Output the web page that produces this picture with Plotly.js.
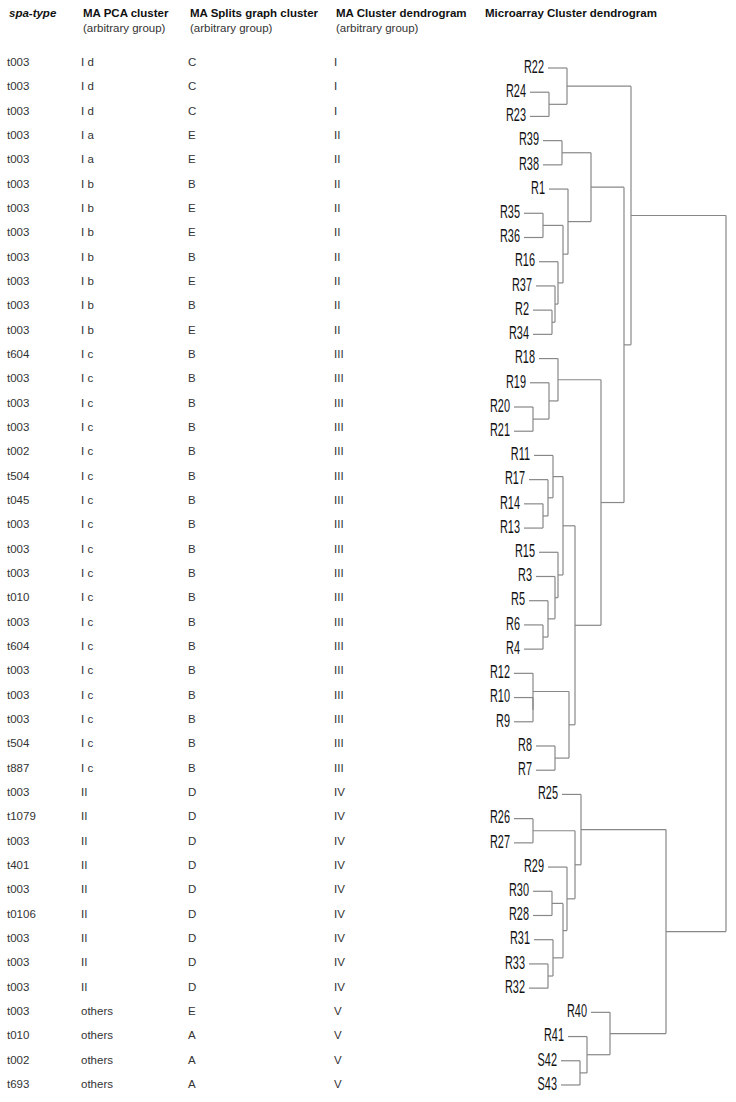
<!DOCTYPE html>
<html>
<head>
<meta charset="utf-8">
<script src="https://cdn.plot.ly/plotly-3.0.1.min.js"></script>
<style>html,body{margin:0;padding:0;background:#fff;}#chart{width:736px;height:1102px;}</style>
</head>
<body>
<div id="chart"></div>
<script>
// ---------- DATA ----------
const spaType = ["t003","t003","t003","t003","t003","t003","t003","t003","t003","t003","t003","t003",
  "t604","t003","t003","t003","t002","t504","t045","t003","t003","t003","t010","t003","t604","t003","t003","t003","t504","t887",
  "t003","t1079","t003","t401","t003","t0106","t003","t003","t003",
  "t003","t010","t002","t693"];
const pcaCluster = ["I d","I d","I d","I a","I a","I b","I b","I b","I b","I b","I b","I b",
  "I c","I c","I c","I c","I c","I c","I c","I c","I c","I c","I c","I c","I c","I c","I c","I c","I c","I c",
  "II","II","II","II","II","II","II","II","II",
  "others","others","others","others"];
const splitsCluster = ["C","C","C","E","E","B","E","E","B","E","B","E",
  "B","B","B","B","B","B","B","B","B","B","B","B","B","B","B","B","B","B",
  "D","D","D","D","D","D","D","D","D",
  "E","A","A","A"];
const maDendroCluster = ["I","I","I","II","II","II","II","II","II","II","II","II",
  "III","III","III","III","III","III","III","III","III","III","III","III","III","III","III","III","III","III",
  "IV","IV","IV","IV","IV","IV","IV","IV","IV",
  "V","V","V","V"];
const headers = [
  ["spa-type", ""],
  ["MA PCA cluster", "(arbitrary group)"],
  ["MA Splits graph cluster", "(arbitrary group)"],
  ["MA Cluster dendrogram", "(arbitrary group)"],
  ["Microarray Cluster dendrogram", ""]
];
// dendrogram leaves, top to bottom
const leafLabels = ["R22","R24","R23","R39","R38","R1","R35","R36","R16","R37","R2","R34",
  "R18","R19","R20","R21","R11","R17","R14","R13","R15","R3","R5","R6","R4",
  "R12","R10","R9","R8","R7","R25","R26","R27","R29","R30","R28","R31","R33","R32",
  "R40","R41","S42","S43"];
// merges: [childA, childB, height]; ids < 43 are leaves, id 43+k is merge k
const mergeA = [1,0,3,6,10,9,8,46,5,45,14,13,12,18,17,16,23,22,21,20,58,26,25,28,65,63,55,52,44,31,34,37,36,73,33,72,30,41,40,39,79,71];
const mergeB = [2,43,4,7,11,47,48,49,50,51,15,53,54,19,56,57,24,59,60,61,62,27,64,29,66,67,68,69,70,32,35,38,74,75,76,77,78,42,80,81,82,83];
const mergeH = [39,57,52,33,42,45,48,53,58,81,23,39,48,33,38,43,33,38,45,48,53,23,23,45,59,65,91,114,121,23,42,38,43,53,57,65,71,70,77,100,156,216];

// ---------- LAYOUT CONSTANTS ----------
const W = 736, H = 1102;
const COL_X = [7, 81, 188, 334];
const LEAF_STUB = 19, LABEL_GAP = 4;
const tableFont = {family: "Liberation Sans, Arial, sans-serif", size: 11.5, color: "#333"};
const headFont = {family: "Liberation Sans, Arial, sans-serif", size: 11.5, color: "#111"};
const leafFont = {family: "Liberation Sans, Arial, sans-serif", size: 14, color: "#111"};
const lineColor = "#888888";

// ---------- TABLE TRACES ----------
const rows = spaType.map((_, i) => i);
const cols = [spaType, pcaCluster, splitsCluster, maDendroCluster];
const traces = cols.map((col, c) => ({
  type: "scatter", mode: "text", x: rows.map(() => COL_X[c]), y: rows, text: col,
  textposition: "middle right", textfont: tableFont, hoverinfo: "skip", showlegend: false,
  xaxis: "x", yaxis: "y"
}));

// ---------- DENDROGRAM ----------
const nLeaf = leafLabels.length;
const nodeY = leafLabels.map((_, i) => i);
const nodeH = leafLabels.map(() => null);
const parentH = leafLabels.map(() => null);
mergeH.forEach((h, k) => {
  const a = mergeA[k], b = mergeB[k];
  nodeY.push((nodeY[a] + nodeY[b]) / 2);
  nodeH.push(h);
  parentH[a] = h; parentH[b] = h;
});
const lx = [], ly = [];
mergeH.forEach((h, k) => {
  const a = mergeA[k], b = mergeB[k];
  lx.push(h, h, null); ly.push(nodeY[a], nodeY[b], null);
  [a, b].forEach(ch => {
    const start = ch < nLeaf ? h - LEAF_STUB : nodeH[ch];
    lx.push(start, h, null); ly.push(nodeY[ch], nodeY[ch], null);
  });
});
traces.push({
  type: "scatter", mode: "lines", x: lx, y: ly, line: {color: lineColor, width: 1.2},
  hoverinfo: "skip", showlegend: false, xaxis: "x2", yaxis: "y2"
});
traces.push({
  type: "scatter", mode: "text",
  x: leafLabels.map((_, i) => parentH[i] - LEAF_STUB - LABEL_GAP), y: leafLabels.map((_, i) => i),
  text: leafLabels, textposition: "middle left", textfont: leafFont,
  hoverinfo: "skip", showlegend: false, xaxis: "x2", yaxis: "y2"
});

// ---------- AXES ----------
const rowTop = 63, rowStep = 24.333;   // table rows
const leafTop = 68, leafStep = 24.214; // dendrogram leaves
const hidden = {visible: false, showgrid: false, zeroline: false, fixedrange: true};
const headerX = [7, 81, 188, 334, 483];
const annotations = [];
headers.forEach((hd, i) => {
  annotations.push({xref: "x", yref: "paper", x: headerX[i], y: 1 - 13 / H,
    text: i === 0 ? "<i><b>" + hd[0] + "</b></i>" : "<b>" + hd[0] + "</b>",
    showarrow: false, xanchor: "left", yanchor: "middle", font: headFont});
  if (hd[1]) annotations.push({xref: "x", yref: "paper", x: headerX[i], y: 1 - 28 / H, text: hd[1],
    showarrow: false, xanchor: "left", yanchor: "middle", font: tableFont});
});

const layout = {
  width: W, height: H, margin: {l: 0, r: 0, t: 0, b: 0, pad: 0},
  paper_bgcolor: "#fff", plot_bgcolor: "#fff",
  xaxis: Object.assign({range: [0, W], domain: [0, 1]}, hidden),
  yaxis: Object.assign({range: [(H - rowTop) / rowStep, -rowTop / rowStep], domain: [0, 1]}, hidden),
  xaxis2: Object.assign({range: [-510, W - 510], domain: [0, 1], overlaying: "x"}, hidden),
  yaxis2: Object.assign({range: [(H - leafTop) / leafStep, -leafTop / leafStep], domain: [0, 1], overlaying: "y"}, hidden),
  annotations: annotations
};
Plotly.newPlot("chart", traces, layout, {staticPlot: true, displayModeBar: false}).then(gd => {
  // condense the leaf labels (tall, narrow lettering as in the original figure)
  const groups = gd.querySelectorAll(".scatterlayer .trace");
  const g = groups[groups.length - 1];
  if (!g) return;
  g.querySelectorAll(".textpoint text").forEach(t => {
    const x = parseFloat(t.getAttribute("x")), y = parseFloat(t.getAttribute("y"));
    if (isNaN(x) || isNaN(y)) return;
    const cy = y - 5;
    t.setAttribute("transform", "translate(" + x + "," + cy + ") scale(0.78,1.25) translate(" + (-x) + "," + (-cy) + ")");
  });
});
</script>
</body>
</html>
